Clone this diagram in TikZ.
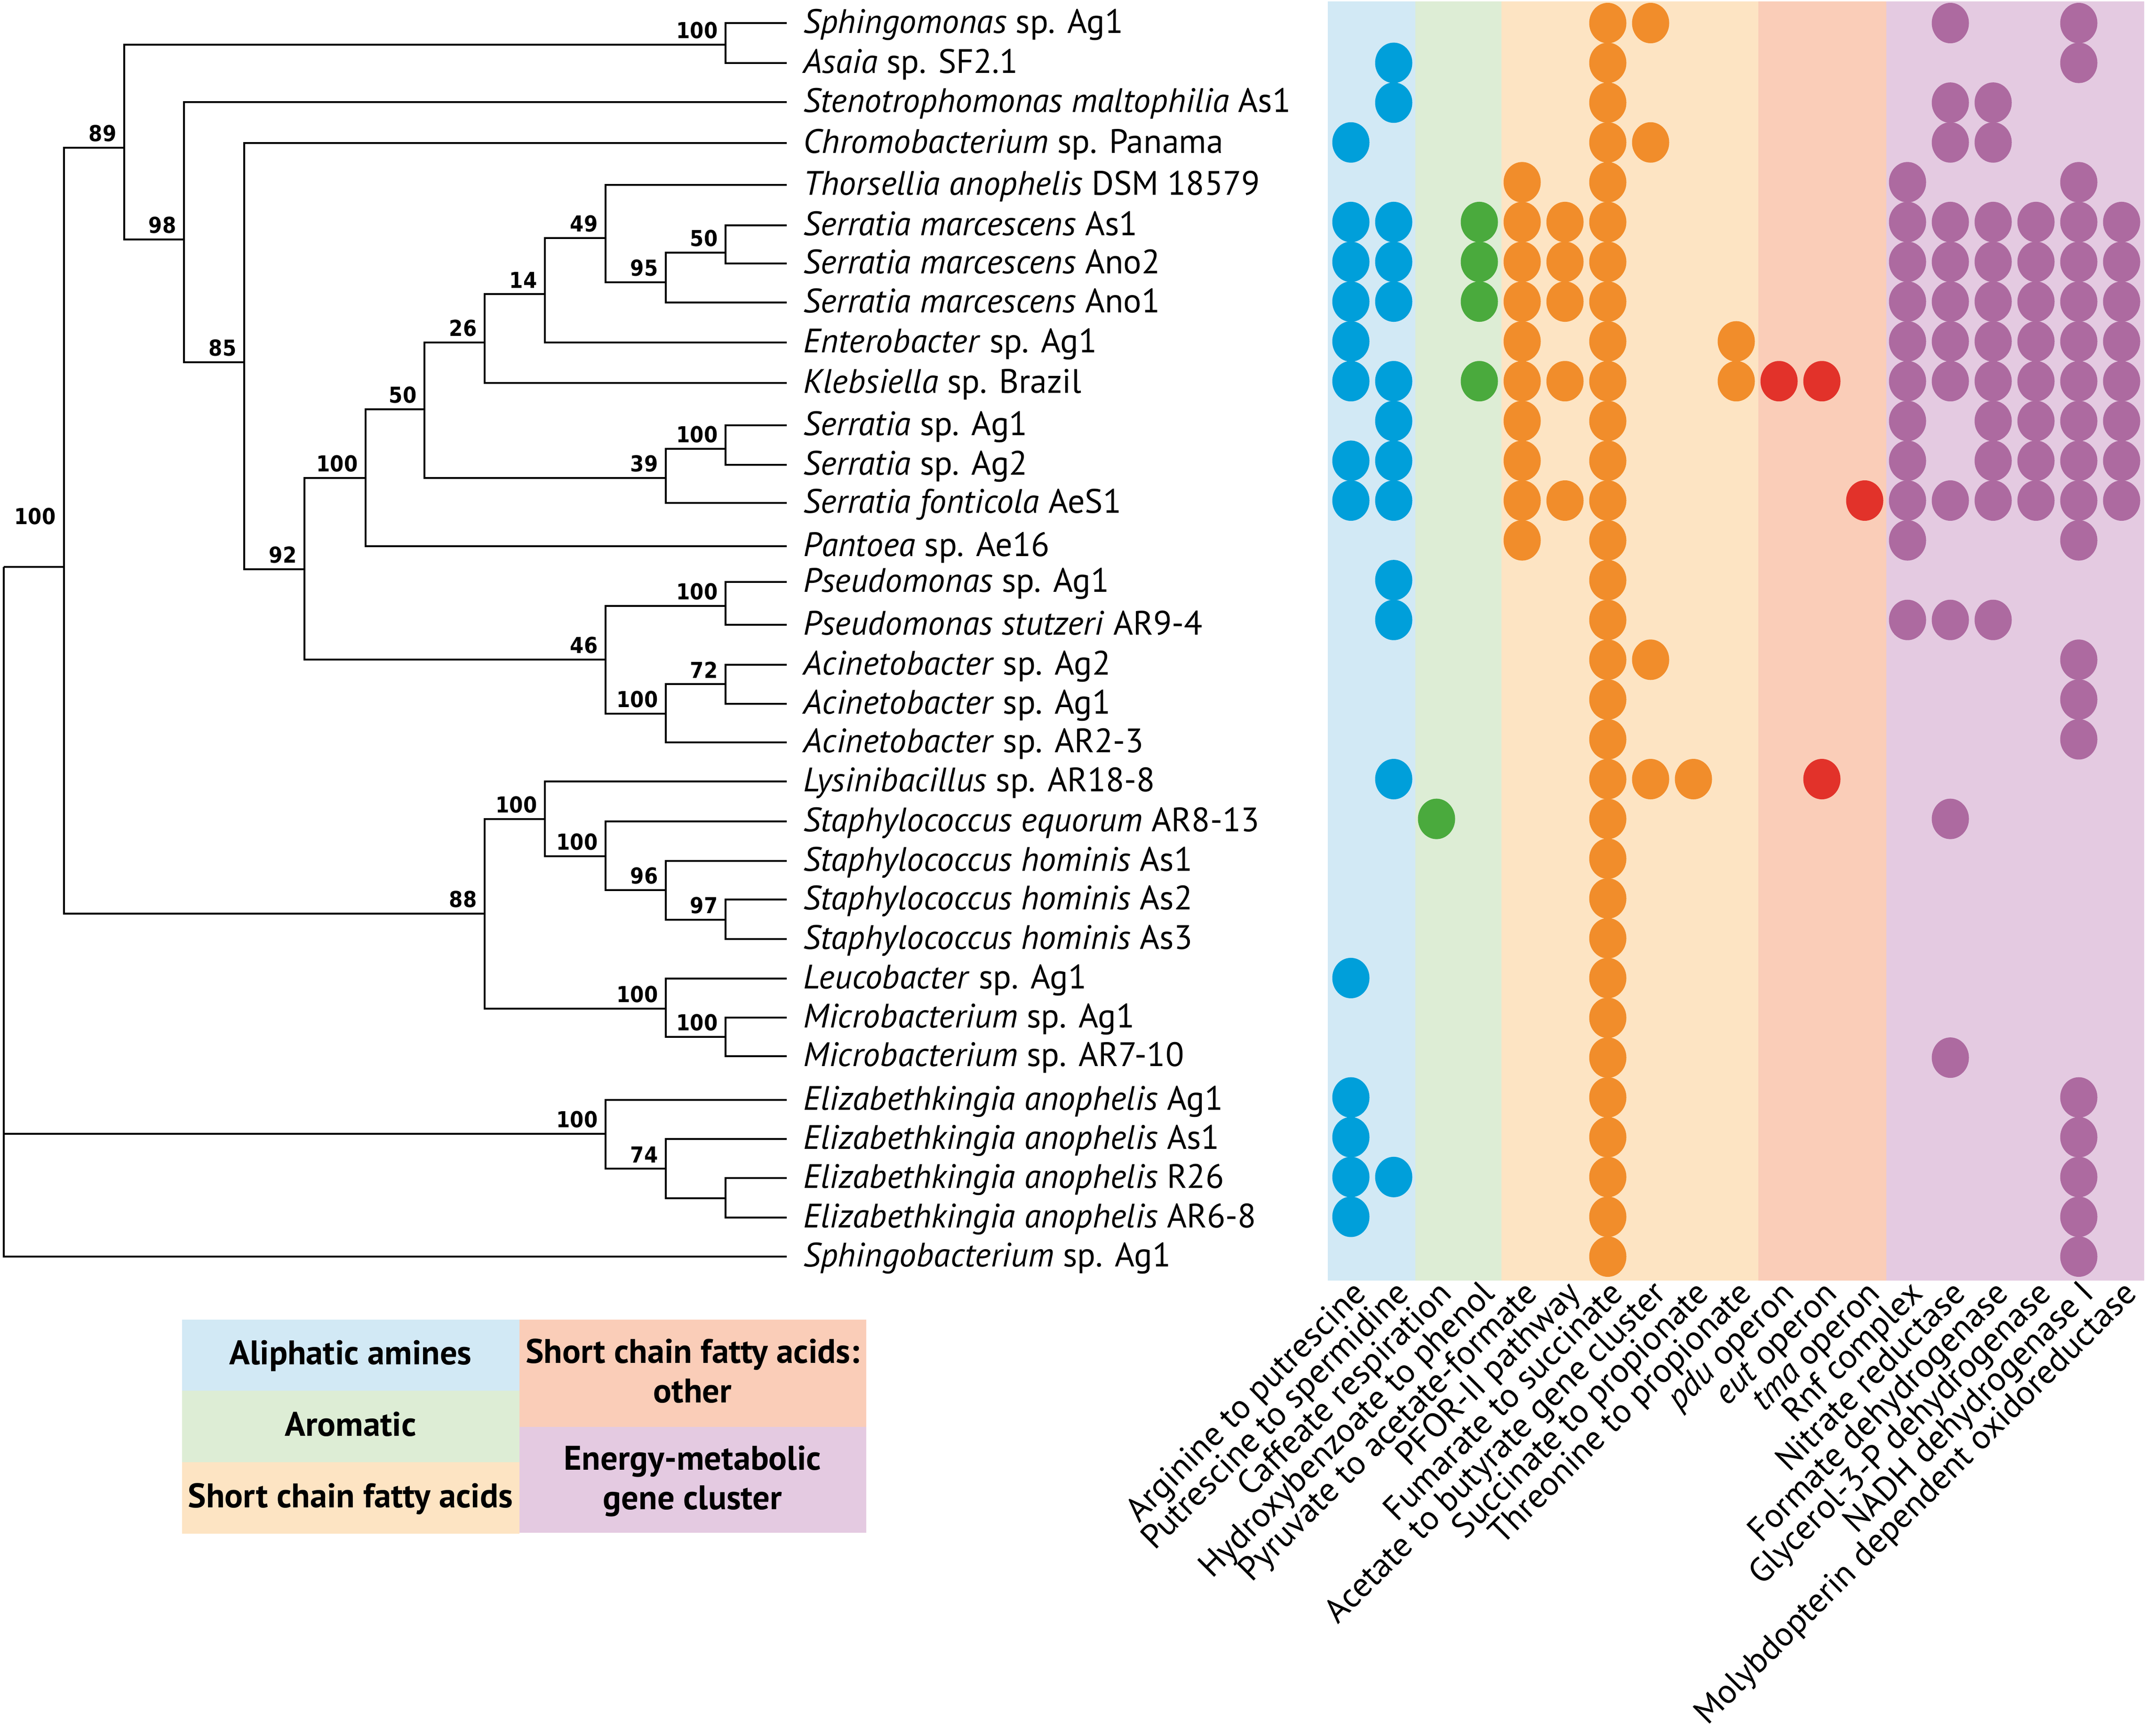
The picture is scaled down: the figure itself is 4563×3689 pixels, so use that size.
\documentclass[tikz,border=0pt]{standalone}
\usepackage{fontspec}
\setmainfont{PT Sans}
\newfontfamily\numfont[FakeStretch=0.9]{DejaVu Sans}
\usetikzlibrary{calc}
\definecolor{bblue}{RGB}{210,233,245}
\definecolor{bgreen}{RGB}{221,237,213}
\definecolor{borange}{RGB}{253,228,195}
\definecolor{bsalmon}{RGB}{250,205,184}
\definecolor{bpurple}{RGB}{228,202,225}
\definecolor{dblue}{RGB}{0,159,218}
\definecolor{dgreen}{RGB}{74,170,61}
\definecolor{dorange}{RGB}{241,141,43}
\definecolor{dred}{RGB}{226,50,42}
\definecolor{dpurple}{RGB}{173,106,160}
\colorlet{dc1}{dblue}\colorlet{dc2}{dblue}
\colorlet{dc3}{dgreen}\colorlet{dc4}{dgreen}
\colorlet{dc5}{dorange}\colorlet{dc6}{dorange}\colorlet{dc7}{dorange}
\colorlet{dc8}{dorange}\colorlet{dc9}{dorange}\colorlet{dc10}{dorange}
\colorlet{dc11}{dred}\colorlet{dc12}{dred}\colorlet{dc13}{dred}
\colorlet{dc14}{dpurple}\colorlet{dc15}{dpurple}\colorlet{dc16}{dpurple}
\colorlet{dc17}{dpurple}\colorlet{dc18}{dpurple}\colorlet{dc19}{dpurple}
\newlength\mylen
\AtBeginDocument{%
  \settowidth\mylen{\fontsize{10pt}{12pt}\selectfont\textit{Stenotrophomonas maltophilia} As1}%
  \pgfmathsetmacro\tmpsz{10*294.5/\mylen}\xdef\spsz{\tmpsz}%
  \settowidth\mylen{\fontsize{10pt}{12pt}\selectfont Molybdopterin dependent oxidoreductase}%
  \pgfmathsetmacro\tmpsz{10*368/\mylen}\xdef\clsz{\tmpsz}%
  \settowidth\mylen{\fontsize{10pt}{12pt}\selectfont\bfseries Short chain fatty acids}%
  \pgfmathsetmacro\tmpsz{10*196.3/\mylen}\xdef\lgsz{\tmpsz}%
}
\begin{document}
\begin{tikzpicture}[x=0.01cm,y=-0.01cm,
  treeline/.style={line width=0.9pt,black},
  boot/.style={font=\numfont\bfseries\fontsize{13.3pt}{13.3pt}\selectfont,anchor=south east,inner sep=0pt},
  sp/.style={font=\fontsize{\spsz pt}{\spsz pt}\selectfont,anchor=base west,inner sep=0pt},
  collab/.style={font=\fontsize{\clsz pt}{\clsz pt}\selectfont,rotate=45,anchor=base east,inner sep=0pt},
  legtxt/.style={font=\bfseries\fontsize{\lgsz pt}{\lgsz pt}\selectfont,anchor=base,inner sep=0pt}]
\useasboundingbox[fill=white] (0,0) rectangle (4563,3689);
% bands
\fill[bblue] (2822,3) rectangle (3008,2722);
\fill[bgreen] (3008,3) rectangle (3191,2722);
\fill[borange] (3191,3) rectangle (3737,2722);
\fill[bsalmon] (3737,3) rectangle (4009,2722);
\fill[bpurple] (4009,3) rectangle (4557,2722);
% dots
\foreach \r/\cl in {1/{7,8,15,18},2/{2,7,18},3/{2,7,15,16},4/{1,7,8,15,16},5/{5,7,14,18},
  6/{1,2,4,5,6,7,14,15,16,17,18,19},7/{1,2,4,5,6,7,14,15,16,17,18,19},8/{1,2,4,5,6,7,14,15,16,17,18,19},
  9/{1,5,7,10,14,15,16,17,18,19},10/{1,2,4,5,6,7,10,11,12,14,15,16,17,18,19},
  11/{2,5,7,14,16,17,18,19},12/{1,2,5,7,14,16,17,18,19},13/{1,2,5,6,7,13,14,15,16,17,18,19},
  14/{5,7,14,18},15/{2,7},16/{2,7,14,15,16},17/{7,8,18},18/{7,18},19/{7,18},20/{2,7,8,9,12},
  21/{3,7,15},22/{7},23/{7},24/{7},25/{1,7},26/{7},27/{7,15},28/{1,7,18},29/{1,7,18},
  30/{1,2,7,18},31/{1,7,18},32/{7,18}}{
  \foreach \c in \cl {
    \fill[fill=dc\c] ({2871+(\c-1)*91},{49+(\r-1)*84.58}) ellipse [x radius=39.5,y radius=43];
  }
}
% leaves and species labels
\foreach \i/\y/\t in {1/49/{\textit{Sphingomonas} sp. Ag1},2/134/{\textit{Asaia} sp. SF2.1},
  3/217/{\textit{Stenotrophomonas maltophilia} As1},4/304/{\textit{Chromobacterium} sp. Panama},
  5/393/{\textit{Thorsellia anophelis} DSM 18579},6/479/{\textit{Serratia marcescens} As1},
  7/560/{\textit{Serratia marcescens} Ano2},8/643/{\textit{Serratia marcescens} Ano1},
  9/728/{\textit{Enterobacter} sp. Ag1},10/814/{\textit{Klebsiella} sp. Brazil},
  11/904/{\textit{Serratia} sp. Ag1},12/988/{\textit{Serratia} sp. Ag2},
  13/1069/{\textit{Serratia fonticola} AeS1},14/1161/{\textit{Pantoea} sp. Ae16},
  15/1237/{\textit{Pseudomonas} sp. Ag1},16/1328/{\textit{Pseudomonas stutzeri} AR9-4},
  17/1413/{\textit{Acinetobacter} sp. Ag2},18/1496/{\textit{Acinetobacter} sp. Ag1},
  19/1578/{\textit{Acinetobacter} sp. AR2-3},20/1661/{\textit{Lysinibacillus} sp. AR18-8},
  21/1746/{\textit{Staphylococcus equorum} AR8-13},22/1830/{\textit{Staphylococcus hominis} As1},
  23/1912/{\textit{Staphylococcus hominis} As2},24/1996/{\textit{Staphylococcus hominis} As3},
  25/2080/{\textit{Leucobacter} sp. Ag1},26/2163/{\textit{Microbacterium} sp. Ag1},
  27/2245/{\textit{Microbacterium} sp. AR7-10},28/2338/{\textit{Elizabethkingia anophelis} Ag1},
  29/2421/{\textit{Elizabethkingia anophelis} As1},30/2504/{\textit{Elizabethkingia anophelis} R26},
  31/2588/{\textit{Elizabethkingia anophelis} AR6-8},32/2671/{\textit{Sphingobacterium} sp. Ag1}}{
  \coordinate (l\i) at (1672,\y);
  \node[sp] (s\i) at (1707,\y+21) {\t};
}
% internal nodes
\coordinate (SA) at (1542,95);
\coordinate (O) at (1542,537);
\coordinate (N) at (1415,600);
\coordinate (M) at (1287,506);
\coordinate (L) at (1158,625);
\coordinate (K) at (1030,728);
\coordinate (Q) at (1542,954);
\coordinate (P) at (1415,1016);
\coordinate (J) at (902,870);
\coordinate (H) at (777,1016);
\coordinate (R) at (1542,1288);
\coordinate (U) at (1542,1454);
\coordinate (T) at (1415,1517);
\coordinate (I) at (1287,1402);
\coordinate (G) at (647,1210);
\coordinate (D) at (519,770);
\coordinate (C) at (391,509);
\coordinate (B) at (264,314);
\coordinate (Z) at (1542,1955);
\coordinate (Y) at (1415,1892);
\coordinate (X) at (1287,1820);
\coordinate (V) at (1158,1741);
\coordinate (W2) at (1542,2204);
\coordinate (W) at (1415,2144);
\coordinate (F) at (1030,1942);
\coordinate (A) at (136,1205);
\coordinate (E3) at (1542,2547);
\coordinate (E2) at (1415,2484);
\coordinate (E) at (1287,2410);
\coordinate (root) at (8,1205);
\foreach \p/\c in {SA/l1,SA/l2,O/l6,O/l7,N/O,N/l8,M/l5,M/N,L/M,L/l9,K/L,K/l10,
  Q/l11,Q/l12,P/Q,P/l13,J/K,J/P,H/J,H/l14,R/l15,R/l16,U/l17,U/l18,T/U,T/l19,I/R,I/T,
  G/H,G/I,D/l4,D/G,C/l3,C/D,B/SA,B/C,Z/l23,Z/l24,Y/l22,Y/Z,X/l21,X/Y,V/l20,V/X,
  W2/l26,W2/l27,W/l25,W/W2,F/V,F/W,A/B,A/F,E3/l30,E3/l31,E2/l29,E2/E3,E/l28,E/E2,
  root/A,root/E,root/l32}{
  \draw[treeline] (\p) |- (\c);
}
% bootstrap values
\node[boot] (bA) at (119,1116) {100};
\foreach \n/\v in {B/89,C/98,D/85,G/92,H/100,J/50,K/26,L/14,M/49,N/95,O/50,P/39,Q/100,
  SA/100,I/46,R/100,T/100,U/72,F/88,V/100,X/100,Y/96,Z/97,W/100,W2/100,E/100,E2/74}{
  \node[boot] (b\n) at ($(\n)+(-16,-12)$) {\v};
}
% column labels
\foreach \j/\t in {1/{Arginine to putrescine},2/{Putrescine to spermidine},3/{Caffeate respiration},
  4/{Hydroxybenzoate to phenol},5/{Pyruvate to acetate-formate},6/{PFOR-II pathway},
  7/{Fumarate to succinate},8/{Acetate to butyrate gene cluster},9/{Succinate to propionate},
  10/{Threonine to propionate},11/{\textit{pdu} operon},12/{\textit{eut} operon},
  13/{\textit{tma} operon},14/{Rnf complex},15/{Nitrate reductase},16/{Formate dehydrogenase},
  17/{Glycerol-3-P dehydrogenase},18/{NADH dehydrogenase I},
  19/{Molybdopterin dependent oxidoreductase}}{
  \node[collab] (c\j) at ({2871+(\j-1)*91+36},2753) {\t};
}
% legend
\fill[bblue] (387,2805) rectangle (1104,2956);
\fill[bgreen] (387,2956) rectangle (1104,3108);
\fill[borange] (387,3108) rectangle (1104,3260);
\fill[bsalmon] (1104,2805) rectangle (1841,3033);
\fill[bpurple] (1104,3033) rectangle (1841,3258);
\node[legtxt] (lg1) at (745,2900) {Aliphatic amines};
\node[legtxt] (lg2) at (745,3052) {Aromatic};
\node[legtxt] (lg3) at (745,3204) {Short chain fatty acids};
\node[legtxt] (lg4) at (1472,2897) {Short chain fatty acids:};
\node[legtxt] (lg5) at (1472,2981) {other};
\node[legtxt] (lg6) at (1472,3124) {Energy-metabolic};
\node[legtxt] (lg7) at (1472,3208) {gene cluster};
\end{tikzpicture}
\end{document}
